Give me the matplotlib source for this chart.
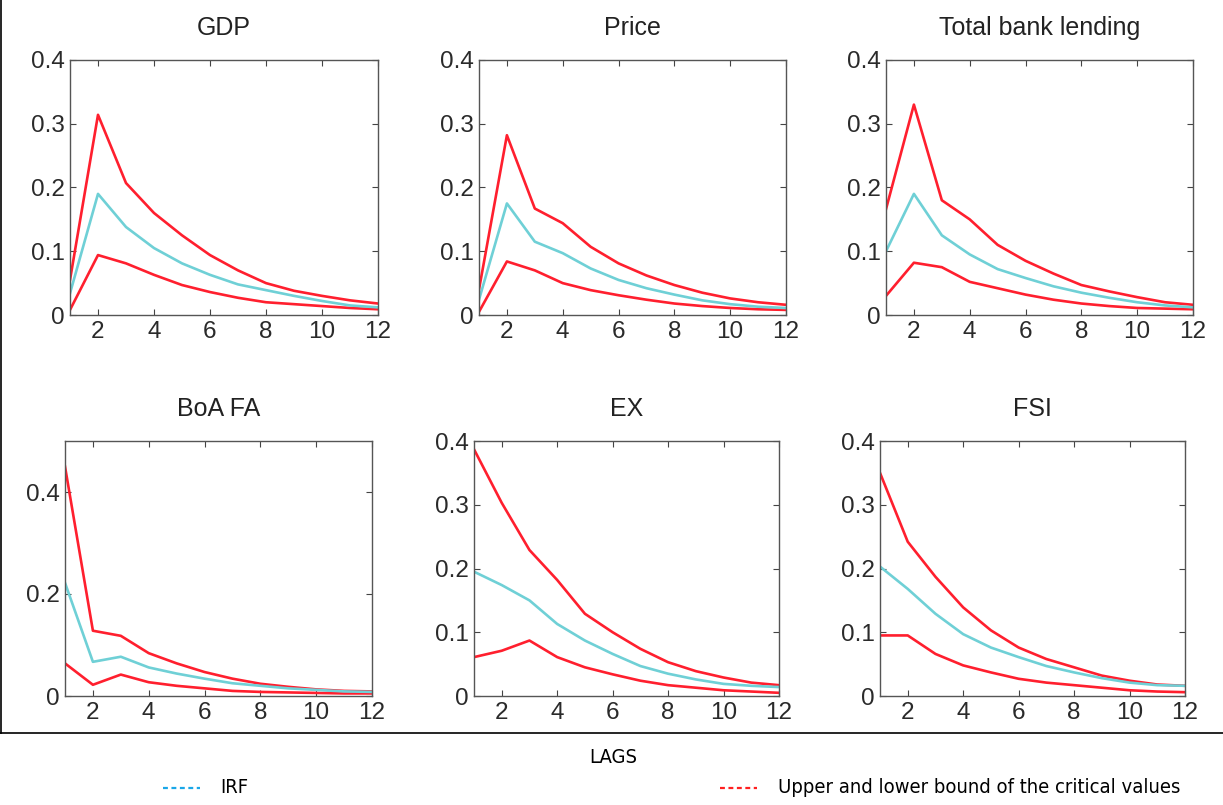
#!/usr/bin/env python3
"""
Impulse response functions with upper/lower critical bounds, 2x3 panels.
"""

import matplotlib
matplotlib.use("Agg")
import matplotlib.pyplot as plt
from matplotlib.lines import Line2D

lags = [1, 2, 3, 4, 5, 6, 7, 8, 9, 10, 11, 12]

titles = ["GDP", "Price", "Total bank lending", "BoA FA", "EX", "FSI"]

# IRF point estimates
gdp_irf = [0.034, 0.19, 0.138, 0.105, 0.081, 0.063, 0.048, 0.039, 0.030, 0.022, 0.015, 0.012]
price_irf = [0.024, 0.175, 0.115, 0.097, 0.073, 0.055, 0.042, 0.032, 0.023, 0.017, 0.013, 0.011]
lending_irf = [0.10, 0.19, 0.125, 0.095, 0.072, 0.058, 0.045, 0.035, 0.027, 0.020, 0.015, 0.012]
boa_irf = [0.222, 0.067, 0.077, 0.056, 0.044, 0.034, 0.025, 0.020, 0.015, 0.012, 0.009, 0.008]
ex_irf = [0.195, 0.174, 0.150, 0.113, 0.087, 0.066, 0.047, 0.035, 0.026, 0.019, 0.016, 0.014]
fsi_irf = [0.203, 0.168, 0.129, 0.097, 0.076, 0.061, 0.047, 0.037, 0.028, 0.021, 0.017, 0.016]

# upper bounds
gdp_up = [0.055, 0.314, 0.207, 0.160, 0.125, 0.094, 0.070, 0.050, 0.038, 0.030, 0.023, 0.018]
price_up = [0.040, 0.282, 0.167, 0.144, 0.107, 0.081, 0.062, 0.047, 0.035, 0.026, 0.020, 0.016]
lending_up = [0.166, 0.330, 0.180, 0.150, 0.110, 0.085, 0.065, 0.047, 0.037, 0.028, 0.020, 0.016]
boa_up = [0.450, 0.128, 0.118, 0.084, 0.064, 0.047, 0.034, 0.024, 0.018, 0.013, 0.010, 0.009]
ex_up = [0.387, 0.303, 0.229, 0.182, 0.129, 0.100, 0.074, 0.053, 0.039, 0.029, 0.021, 0.017]
fsi_up = [0.350, 0.242, 0.187, 0.139, 0.103, 0.076, 0.058, 0.045, 0.032, 0.024, 0.018, 0.016]

# lower bounds
gdp_lo = [0.008, 0.094, 0.081, 0.063, 0.047, 0.036, 0.027, 0.020, 0.017, 0.014, 0.011, 0.009]
price_lo = [0.005, 0.084, 0.070, 0.050, 0.039, 0.031, 0.024, 0.018, 0.014, 0.011, 0.009, 0.008]
lending_lo = [0.030, 0.082, 0.075, 0.052, 0.042, 0.032, 0.024, 0.018, 0.014, 0.011, 0.010, 0.009]
boa_lo = [0.064, 0.022, 0.042, 0.027, 0.020, 0.015, 0.010, 0.008, 0.007, 0.006, 0.005, 0.005]
ex_lo = [0.061, 0.071, 0.087, 0.061, 0.045, 0.034, 0.024, 0.017, 0.013, 0.009, 0.007, 0.005]
fsi_lo = [0.095, 0.095, 0.066, 0.048, 0.037, 0.027, 0.021, 0.017, 0.013, 0.009, 0.007, 0.006]

irfs = [gdp_irf, price_irf, lending_irf, boa_irf, ex_irf, fsi_irf]
uppers = [gdp_up, price_up, lending_up, boa_up, ex_up, fsi_up]
lowers = [gdp_lo, price_lo, lending_lo, boa_lo, ex_lo, fsi_lo]

x_ticks = [2, 4, 6, 8, 10, 12]

W, H = 1223, 805
# panel boxes in pixels: left, right, top, bottom
boxes = [
    (70, 378, 60, 315), (479, 786, 60, 315), (886, 1193, 60, 315),
    (65, 372, 441, 696), (474, 779, 441, 696), (880, 1185, 441, 696),
]

RED = "#ff1f2e"
CYAN = "#6fd0d6"

plt.rcParams["font.family"] = ["Liberation Sans", "DejaVu Sans"]

fig = plt.figure(figsize=(W / 100, H / 100), dpi=100)

for i, (l, r, t, b) in enumerate(boxes):
    ax = fig.add_axes([l / W, 1 - b / H, (r - l) / W, (b - t) / H])
    ax.plot(lags, uppers[i], color=RED, linewidth=1.9)
    ax.plot(lags, lowers[i], color=RED, linewidth=1.9)
    ax.plot(lags, irfs[i], color=CYAN, linewidth=1.9)

    ax.set_xlim(1, 12)
    ax.set_xticks(x_ticks)
    if titles[i] == "BoA FA":
        ax.set_ylim(0, 0.5)
        ax.set_yticks([0, 0.2, 0.4])
        ax.set_yticklabels(["0", "0.2", "0.4"])
    else:
        ax.set_ylim(0, 0.4)
        ax.set_yticks([0, 0.1, 0.2, 0.3, 0.4])
        ax.set_yticklabels(["0", "0.1", "0.2", "0.3", "0.4"])

    ax.tick_params(direction="in", top=True, right=True, length=4, width=0.8,
                   labelsize=17.5, colors="#444444", labelcolor="#2a2a2a", pad=4)
    for s in ax.spines.values():
        s.set_color("#555555")
        s.set_linewidth(1.0)
    ax.set_title(titles[i], fontsize=18, color="#222222", pad=18)

# outer frame (left and bottom edges only)
fig.add_artist(Line2D([1 / W, 1 / W], [1 - 733 / H, 1.0], transform=fig.transFigure,
                      color="black", linewidth=1.2))
fig.add_artist(Line2D([0, 1], [1 - 733 / H, 1 - 733 / H], transform=fig.transFigure,
                      color="black", linewidth=1.2))

cond = dict(family="DejaVu Sans", stretch="condensed", color="black")
fig.text(613 / W, 1 - 757 / H, "LAGS", ha="center", va="center", fontsize=14.5, **cond)

# legend drawn as a row of text with dash samples
fig.add_artist(Line2D([163 / W, 200 / W], [1 - 788 / H, 1 - 788 / H], transform=fig.transFigure,
                      color="#1aa7e8", linewidth=1.6, linestyle=(0, (2.2, 1.6))))
fig.text(220 / W, 1 - 787 / H, "IRF", ha="left", va="center", fontsize=14.5, **cond)
fig.add_artist(Line2D([720 / W, 757 / W], [1 - 788 / H, 1 - 788 / H], transform=fig.transFigure,
                      color="#ff2020", linewidth=1.6, linestyle=(0, (2.2, 1.6))))
fig.text(778 / W, 1 - 787 / H, "Upper and lower bound of the critical values",
         ha="left", va="center", fontsize=14.5, **cond)

fig.savefig("out.png", dpi=100)
